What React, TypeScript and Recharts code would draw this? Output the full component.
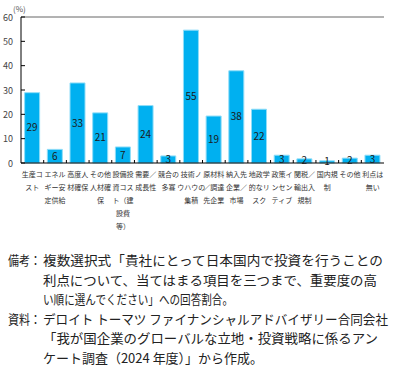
import React from 'react';
import { BarChart, Bar, XAxis, YAxis, ReferenceLine, LabelList } from 'recharts';

const categories = [
  '生産コ\nスト',
  'エネル\nギー安\n定供給',
  '高度人\n材確保',
  'その他\n人材確\n保',
  '設備投\n資コス\nト（建\n設費\n等）',
  '需要／\n成長性',
  '競合の\n多寡',
  '技術ノ\nウハウの\n集積',
  '原材料\n／調達\n先企業',
  '納入先\n企業／\n市場',
  '地政学\n的なリ\nスク',
  '政策イ\nンセン\nティブ',
  '関税／\n輸出入\n規制',
  '国内規\n制',
  'その他',
  '利点は\n無い',
];

const shares = [28.9, 5.6, 32.9, 20.6, 6.6, 23.6, 2.9, 54.6, 19.3, 37.9, 22.1, 3.2, 1.7, 0.9, 2.0, 3.2];

const yTicks = [0, 10, 20, 30, 40, 50, 60];

const noteLabels = ['備考：', '', '', '資料：', '', ''];
const noteTexts = [
  '複数選択式「貴社にとって日本国内で投資を行うことの',
  '利点について、当てはまる項目を三つまで、重要度の高',
  'い順に選んでください」への回答割合。',
  'デロイト トーマツ ファイナンシャルアドバイザリー合同会社',
  '「我が国企業のグローバルな立地・投資戦略に係るアン',
  'ケート調査（2024 年度）」から作成。',
];
// widths of each note line in the reference (px)
const noteWidths = [340, 334, 190, 345, 335, 220];

const data = categories.map((name, i) => ({ name, value: shares[i] }));

const FONT = '"Noto Sans CJK JP", sans-serif';

const CategoryTick = (props: any) => {
  const { x, y, payload, index, width, visibleTicksCount } = props;
  const half = payload.offset || width / visibleTicksCount / 2;
  const lines = String(payload.value).split('\n');
  return (
    <g>
      {index < categories.length - 1 && (
        <line x1={x + half} y1={y} x2={x + half} y2={y - 3} stroke="#000" />
      )}
      <text x={x} y={y} textAnchor="middle" fontSize={7} fill="#333" fontFamily={FONT}>
        {lines.map((l, i) => (
          <tspan key={i} x={x} dy={i === 0 ? 14 : 13}>{l}</tspan>
        ))}
      </text>
    </g>
  );
};

const ValueTick = (props: any) => {
  const { x, y, payload } = props;
  return (
    <g>
      <line x1={x} y1={y} x2={x + 4} y2={y} stroke="#000" />
      <text x={x - 8} y={y} dy={3.5} textAnchor="end" fontSize={9} fill="#444" fontFamily={FONT}>
        {payload.value}
      </text>
    </g>
  );
};

export default function App() {
  return (
    <div style={{ position: 'absolute', left: 0, top: 0, width: 394, height: 371, background: '#fff' }}>
      <BarChart
        width={394}
        height={245}
        data={data}
        margin={{ top: 17, right: 10, left: 0, bottom: 0 }}
        barCategoryGap="16%"
      >
        <XAxis
          dataKey="name"
          height={82}
          interval={0}
          tickLine={false}
          tickSize={0}
          tickMargin={0}
          axisLine={{ stroke: '#000' }}
          tick={<CategoryTick />}
        />
        <YAxis
          yAxisId="left"
          width={21}
          domain={[0, 60]}
          ticks={yTicks}
          interval={0}
          tickLine={false}
          tickSize={0}
          tickMargin={0}
          axisLine={{ stroke: '#000' }}
          tick={<ValueTick />}
        />
        <YAxis
          yAxisId="right"
          orientation="right"
          width={0}
          domain={[0, 60]}
          tick={false}
          tickLine={false}
          axisLine={{ stroke: '#666' }}
        />
        <ReferenceLine yAxisId="left" y={60} stroke="#666" />
        <Bar yAxisId="left" dataKey="value" fill="#00B0F0" stroke="#8FDDF8" strokeWidth={1} isAnimationActive={false}>
          <LabelList
            dataKey="value"
            position="center"
            formatter={(v: any) => Math.round(Number(v))}
            fontSize={10}
            fill="#1a1a1a"
            fontFamily={FONT}
          />
        </Bar>
      </BarChart>
      <div style={{ position: 'absolute', left: 13, top: 3, fontSize: 8, color: '#555', fontFamily: FONT }}>(%)</div>
      <svg width={394} height={126} style={{ position: 'absolute', left: 0, top: 245 }}>
        {noteTexts.map((t, i) => (
          <g key={i} fontFamily={FONT} fontSize={13} fill="#222">
            {noteLabels[i] && (
              <text x={8} y={20 + i * 19.6} textLength={33} lengthAdjust="spacingAndGlyphs">
                {noteLabels[i]}
              </text>
            )}
            <text x={43} y={20 + i * 19.6} textLength={noteWidths[i]} lengthAdjust="spacingAndGlyphs">
              {t}
            </text>
          </g>
        ))}
      </svg>
    </div>
  );
}
